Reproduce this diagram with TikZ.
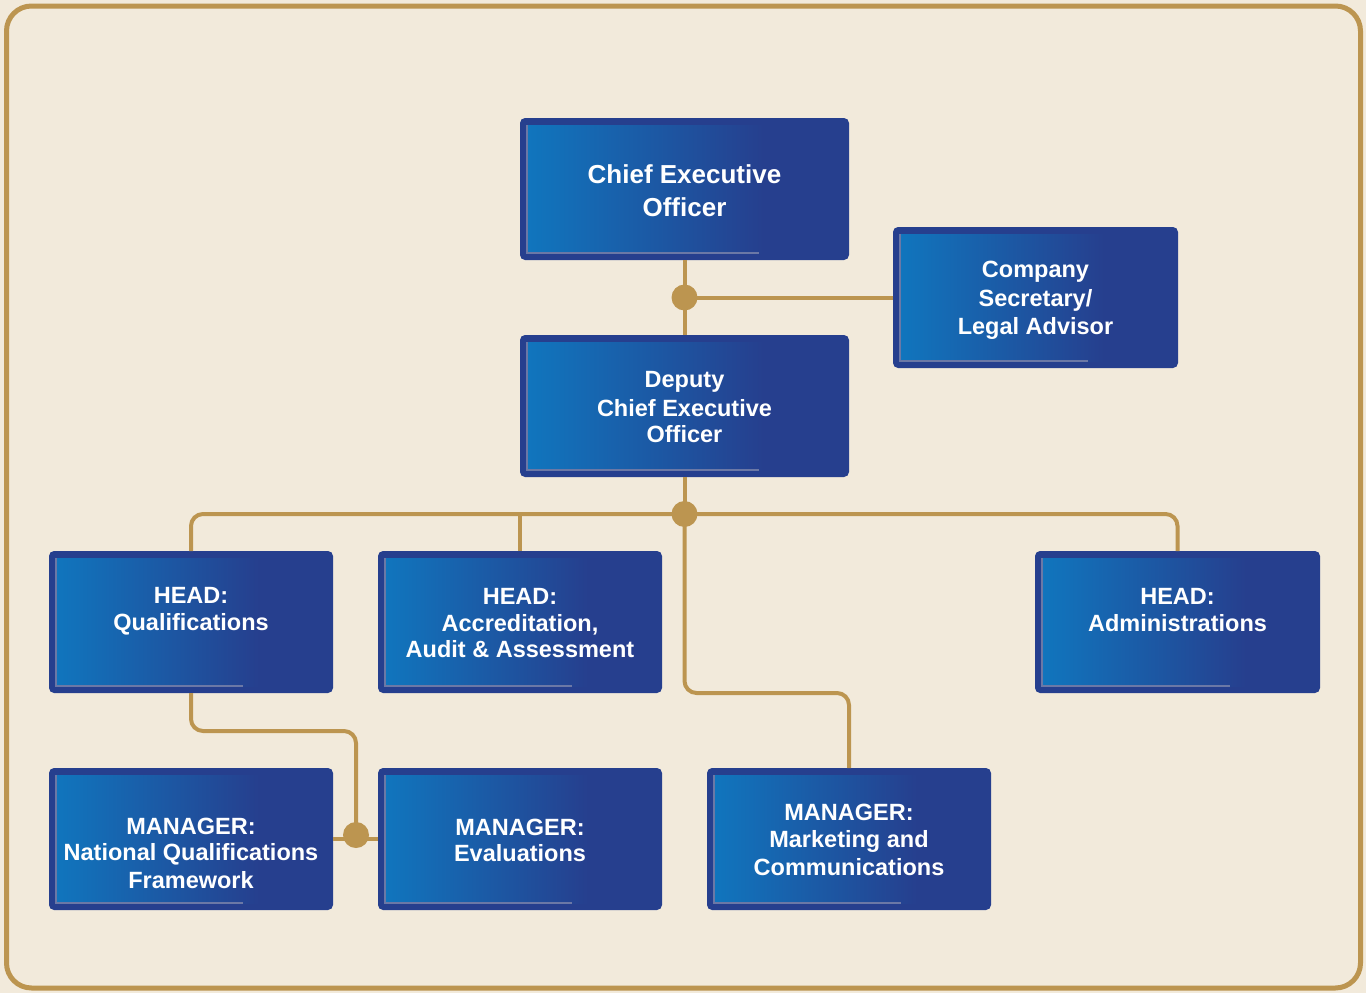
\documentclass[tikz,border=0pt]{standalone}
\usepackage{fontspec}
\setmainfont{Liberation Sans}
\usetikzlibrary{calc}
\definecolor{bg}{HTML}{F2EADB}
\definecolor{gold}{HTML}{BC9550}
\definecolor{dblue}{HTML}{263F8E}
\definecolor{lblue}{HTML}{0A85CB}
\definecolor{edgegray}{HTML}{6B78A6}
\newcommand\lst{\rule[-\dimexpr0.3\baselineskip-4pt\relax]{0pt}{\baselineskip}}
\pgfdeclarehorizontalshading{boxshade}{100bp}{color(0bp)=(dblue!55!lblue); color(4bp)=(lblue); color(14bp)=(lblue); color(30bp)=(lblue!70!dblue); color(62bp)=(dblue); color(100bp)=(dblue)}
\tikzset{
  box/.style={fill=dblue, rounded corners=5pt, inner sep=0pt, outer sep=0pt,
    minimum width=284pt, minimum height=142pt, text=white, align=center,
    font=\bfseries\fontsize{23.5}{26.5}\selectfont,
    path picture={
      \shade[shading=boxshade, sharp corners]
        ([shift={(7pt,-7pt)}]path picture bounding box.north west) rectangle
        ([shift={(-7pt,7pt)}]path picture bounding box.south east);
      \draw[edgegray, line width=1.3pt, sharp corners]
        ([shift={(7pt,-7pt)}]path picture bounding box.north west) --
        ([shift={(7pt,7pt)}]path picture bounding box.south west) --
        ([shift={(-90pt,7pt)}]path picture bounding box.south east);
    }},
  bigbox/.style={box, minimum width=329pt, font=\bfseries\fontsize{26}{33}\selectfont},
  conn/.style={draw=gold, line width=4pt, rounded corners=12pt},
  dot/.style={fill=gold},
}
\begin{document}
\begin{tikzpicture}[x=1pt,y=-1pt]
\useasboundingbox (0,0) rectangle (1366,993);
\fill[bg] (0,0) rectangle (1366,993);
\draw[gold, line width=5pt, rounded corners=25pt] (6.5,6) rectangle (1360.5,988);

\node[bigbox] (ceo) at (684.5,189) {\lst Chief Executive\\\lst Officer};
\node[box, minimum width=285pt, minimum height=141pt] (sec) at (1035.5,297.5) {\lst Company\\\lst Secretary/\\\lst Legal Advisor};
\node[box, minimum width=329pt] (dceo) at (684.5,406) {\lst Deputy\\\lst Chief Executive\\\lst Officer};
\node[box] (hq) at (191,622) {\lst HEAD:\\\lst Qualifications\\\lst};
\node[box] (hacc) at (520,622) {\lst HEAD:\\\lst Accreditation,\\\lst Audit \& Assessment};
\node[box, minimum width=285pt] (hadm) at (1177.5,622) {\lst HEAD:\\\lst Administrations\\\lst};
\node[box] (mnqf) at (191,839) {\lst\\\lst MANAGER:\\\lst National Qualifications\\\lst Framework};
\node[box] (mev) at (520,839) {\lst\\\lst MANAGER:\\\lst Evaluations\\\lst};
\node[box] (mmk) at (849,839) {\lst MANAGER:\\\lst Marketing and\\\lst Communications};

\coordinate (j1) at (684.5,297.5);
\coordinate (j2) at (684.5,514);
\coordinate (j3) at (356,835);

\draw[conn] (ceo.south) -- (dceo.north);
\draw[conn] (j1) -- (sec.west);
\draw[conn] (dceo.south) -- (j2);
\draw[conn] (hq.north) |- (j2) -| (hadm.north);
\draw[conn] (hacc.north) -- (hacc.north |- j2);
\draw[conn] (j2) -- (j2 |- hq.south) -| (mmk.north);
\draw[conn] (hq.south) -- ++(0,38) -| (j3);
\draw[conn] (mnqf.east) -- (mev.west);
\fill[dot] (j1) circle (13pt);
\fill[dot] (j2) circle (13pt);
\fill[dot] (j3) circle (13pt);
\end{tikzpicture}
\end{document}
